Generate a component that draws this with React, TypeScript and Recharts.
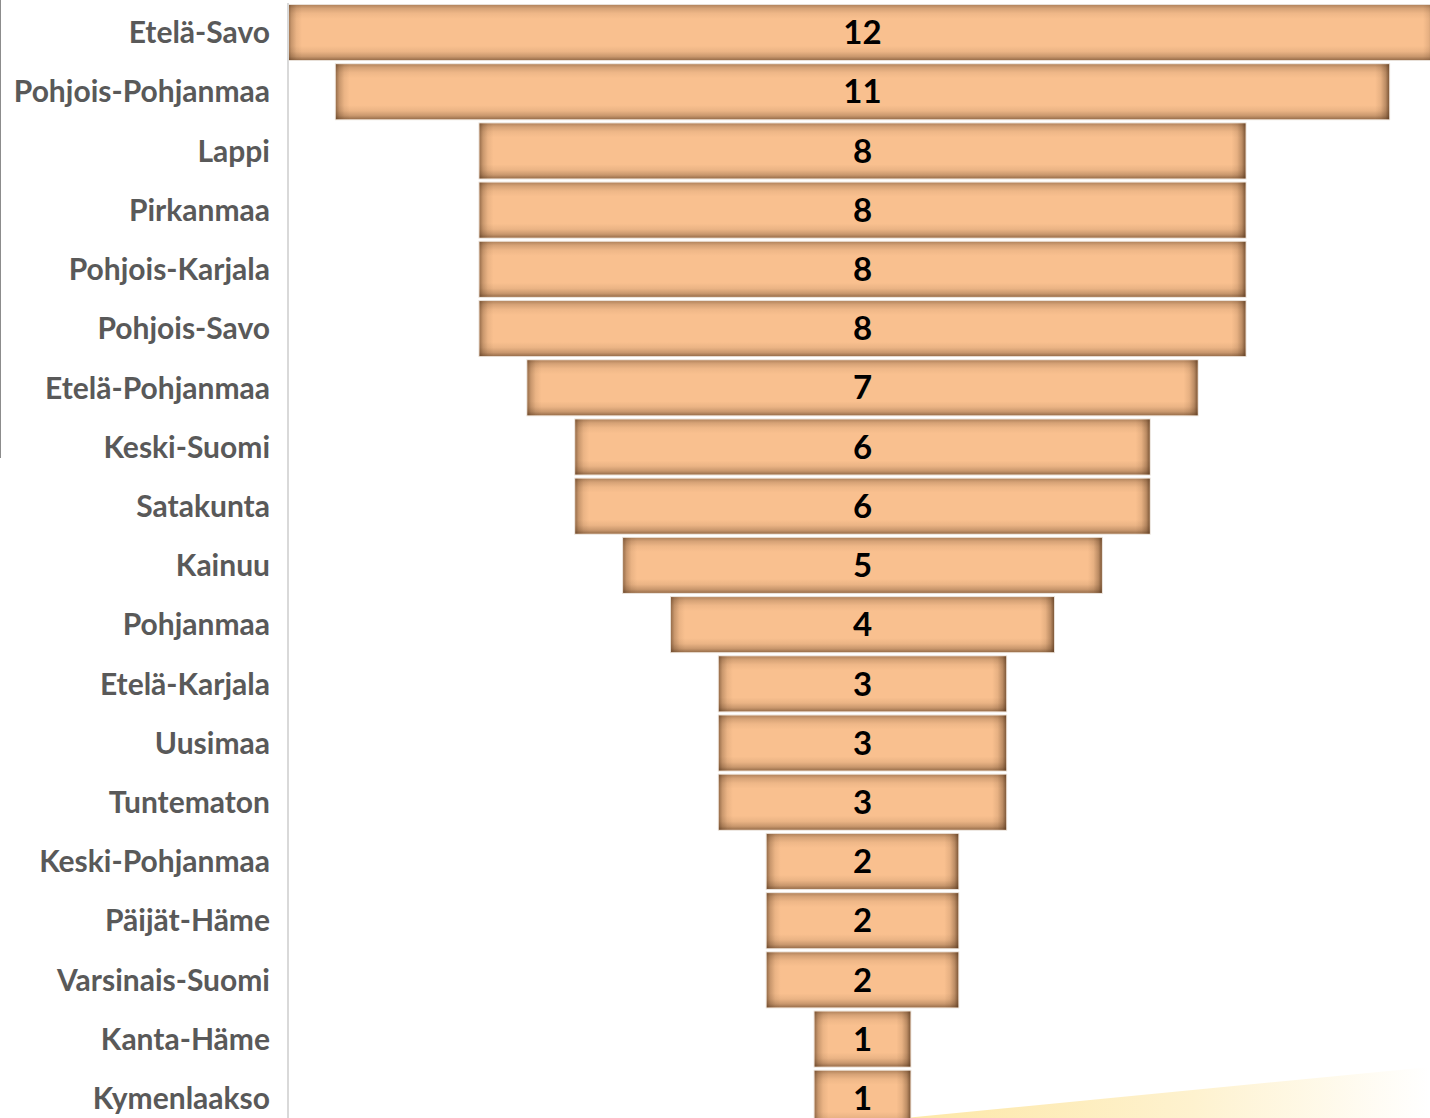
import { BarChart, Bar, XAxis, YAxis, LabelList } from "recharts";

const regions = [
  "Etelä-Savo",
  "Pohjois-Pohjanmaa",
  "Lappi",
  "Pirkanmaa",
  "Pohjois-Karjala",
  "Pohjois-Savo",
  "Etelä-Pohjanmaa",
  "Keski-Suomi",
  "Satakunta",
  "Kainuu",
  "Pohjanmaa",
  "Etelä-Karjala",
  "Uusimaa",
  "Tuntematon",
  "Keski-Pohjanmaa",
  "Päijät-Häme",
  "Varsinais-Suomi",
  "Kanta-Häme",
  "Kymenlaakso",
];
const counts = [12, 11, 8, 8, 8, 8, 7, 6, 6, 5, 4, 3, 3, 3, 2, 2, 2, 1, 1];

const maxCount = Math.max(...counts);
const data = regions.map((name, i) => ({
  name,
  pad: (maxCount - counts[i]) / 2,
  value: counts[i],
}));

const EDGE = 14;

function FunnelBar(props: any) {
  const { x, y, width, height } = props;
  if (!width || width <= 0) return null;
  return (
    <g>
      <rect x={x - 0.5} y={y - 0.5} width={width + 1} height={height + 1} fill="none" stroke="#e8e0d8" strokeWidth={1} />
      <rect x={x} y={y} width={width} height={height} fill="#F9C08F" />
      <rect x={x} y={y} width={width} height={EDGE} fill="url(#shadeT)" />
      <rect x={x} y={y + height - EDGE} width={width} height={EDGE} fill="url(#shadeB)" />
      <rect x={x} y={y} width={EDGE} height={height} fill="url(#shadeL)" />
      <rect x={x + width - EDGE} y={y} width={EDGE} height={height} fill="url(#shadeR)" />
    </g>
  );
}

function Shade({ id, dir, op }: { id: string; dir: "L" | "R" | "T" | "B"; op: number }) {
  const coords =
    dir === "L" ? { x1: 0, y1: 0, x2: 1, y2: 0 } :
    dir === "R" ? { x1: 1, y1: 0, x2: 0, y2: 0 } :
    dir === "T" ? { x1: 0, y1: 0, x2: 0, y2: 1 } :
    { x1: 0, y1: 1, x2: 0, y2: 0 };
  return (
    <linearGradient id={id} {...coords}>
      <stop offset="0" stopColor="#4a2c14" stopOpacity={op} />
      <stop offset="0.25" stopColor="#4a2c14" stopOpacity={op * 0.5} />
      <stop offset="0.6" stopColor="#4a2c14" stopOpacity={op * 0.15} />
      <stop offset="1" stopColor="#4a2c14" stopOpacity={0} />
    </linearGradient>
  );
}

export default function App() {
  return (
    <div style={{ position: "absolute", left: 0, top: 0, width: 1430, height: 1118, overflow: "hidden", background: "#fff" }}>
      <div style={{ position: "absolute", left: 0, top: 0, width: 1, height: 458, background: "#8c8c8c" }} />
      <div
        style={{
          position: "absolute",
          left: 905,
          top: 1060,
          width: 525,
          height: 58,
          background: "linear-gradient(90deg, #fde7a6 0%, #fef2cf 55%, #ffffff 100%)",
          clipPath: "polygon(0% 100%, 100% 12%, 100% 100%)",
        }}
      />
      <BarChart
        width={1437}
        height={1128}
        data={data}
        layout="vertical"
        margin={{ top: 3, right: 0, left: 0, bottom: 0 }}
        barCategoryGap={2}
        style={{ position: "absolute", left: 0, top: 0 }}
      >
        <defs>
          <Shade id="shadeL" dir="L" op={0.55} />
          <Shade id="shadeR" dir="R" op={0.7} />
          <Shade id="shadeT" dir="T" op={0.4} />
          <Shade id="shadeB" dir="B" op={0.55} />
        </defs>
        <XAxis type="number" domain={[0, maxCount]} hide />
        <YAxis
          type="category"
          dataKey="name"
          width={288}
          axisLine={{ stroke: "#d9d9d9", strokeWidth: 2 }}
          tickLine={false}
          tickMargin={12}
          tick={{ fill: "#595959", fontSize: 30, fontWeight: 700, fontFamily: "Lato" }}
          interval={0}
        />
        <Bar dataKey="pad" stackId="f" fill="transparent" isAnimationActive={false} />
        <Bar dataKey="value" stackId="f" shape={<FunnelBar />} isAnimationActive={false}>
          <LabelList
            dataKey="value"
            position="center"
            fill="#000"
            fontSize={33}
            fontWeight={700}
            fontFamily="Lato"
          />
        </Bar>
      </BarChart>
    </div>
  );
}
